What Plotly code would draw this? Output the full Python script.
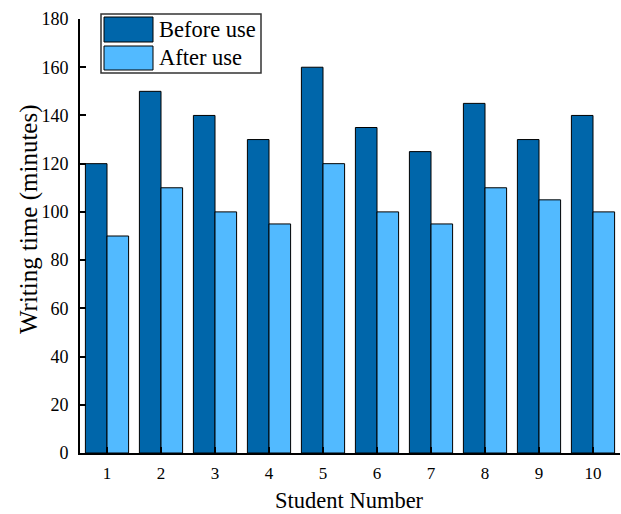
import plotly.graph_objects as go

students = ["1", "2", "3", "4", "5", "6", "7", "8", "9", "10"]
before_use = [120, 150, 140, 130, 160, 135, 125, 145, 130, 140]
after_use = [90, 110, 100, 95, 120, 100, 95, 110, 105, 100]
y_ticks = [0, 20, 40, 60, 80, 100, 120, 140, 160, 180]

DARK = "#0066AA"
LIGHT = "#52BAFF"
FONT = "Liberation Serif"

fig = go.Figure()
fig.add_trace(go.Bar(x=students, y=before_use, name="Before use",
                     marker=dict(color=DARK, line=dict(color="black", width=1))))
fig.add_trace(go.Bar(x=students, y=after_use, name="After use",
                     marker=dict(color=LIGHT, line=dict(color="black", width=1))))

fig.update_layout(
    width=621, height=514,
    margin=dict(l=80, r=1, t=19, b=61),
    paper_bgcolor="white", plot_bgcolor="white",
    barmode="group", bargap=0.2, bargroupgap=0,
    showlegend=False,
    font=dict(family=FONT, color="black"),
)
fig.update_xaxes(
    type="category",
    showline=True, linecolor="black", linewidth=2,
    ticks="inside", ticklen=6, tickwidth=1.5, tickcolor="black",
    tickfont=dict(size=17, family=FONT), ticklabelstandoff=4,
    showgrid=False, zeroline=False,
)
fig.update_yaxes(
    range=[0, 180], tickvals=y_ticks,
    showline=True, linecolor="black", linewidth=2,
    ticks="inside", ticklen=6, tickwidth=1.5, tickcolor="black",
    tickfont=dict(size=18, family=FONT), ticklabelstandoff=6,
    showgrid=False, zeroline=False,
)

W, H = 621 - 80 - 1, 514 - 19 - 61
def px(x): return (x - 80) / W
def py(y): return (453 - y) / H

# axis titles
fig.add_annotation(text="Student Number", xref="paper", yref="paper",
                   x=px(349), y=py(500), xanchor="center", yanchor="middle",
                   showarrow=False, font=dict(size=22.5, family=FONT))
fig.add_annotation(text="Writing time (minutes)", xref="paper", yref="paper",
                   x=px(29), y=py(219), xanchor="center", yanchor="middle",
                   textangle=-90, showarrow=False, font=dict(size=25, family=FONT))

# custom legend
fig.add_shape(type="rect", xref="paper", yref="paper",
              x0=px(101), x1=px(261), y0=py(14), y1=py(73),
              line=dict(color="#333333", width=1.5), fillcolor="white")
fig.add_shape(type="rect", xref="paper", yref="paper",
              x0=px(104), x1=px(153), y0=py(17), y1=py(42),
              line=dict(color="black", width=1), fillcolor=DARK)
fig.add_shape(type="rect", xref="paper", yref="paper",
              x0=px(104), x1=px(153), y0=py(46), y1=py(70),
              line=dict(color="black", width=1), fillcolor=LIGHT)
fig.add_annotation(text="Before use", xref="paper", yref="paper",
                   x=px(157), y=py(29.5), xanchor="left", yanchor="middle",
                   showarrow=False, font=dict(size=22.5, family=FONT))
fig.add_annotation(text="After use", xref="paper", yref="paper",
                   x=px(157), y=py(57.5), xanchor="left", yanchor="middle",
                   showarrow=False, font=dict(size=22.5, family=FONT))

fig.write_html("out.html", config={"displayModeBar": False},
               post_script="document.body.style.margin='0px';document.body.style.overflow='hidden';")
